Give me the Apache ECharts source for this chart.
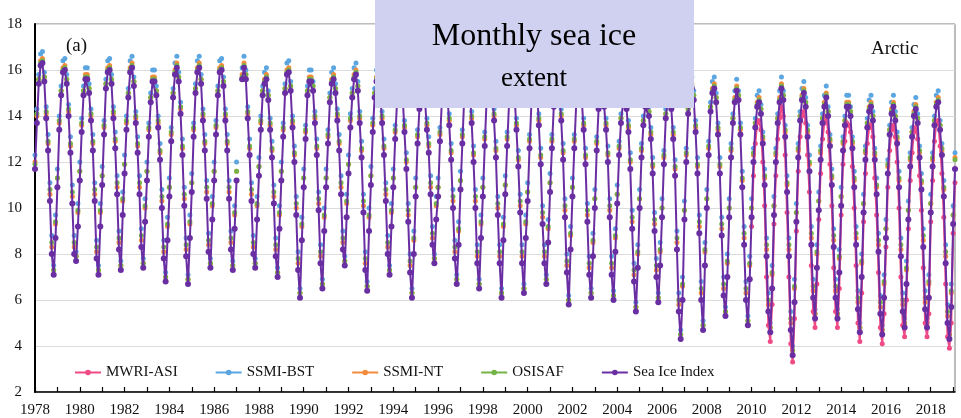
<!DOCTYPE html>
<html>
<head>
<meta charset="utf-8">
<script src="https://cdn.jsdelivr.net/npm/echarts@6/dist/echarts.min.js"></script>
<style>
html,body{margin:0;padding:0;background:#fff;}
#c{width:961px;height:418px;}
</style>
</head>
<body>
<div id="c"></div>
<script>
// Monthly values Nov 1978 .. Dec 2019 (million km2)
const seriesNames = ['MWRI-ASI', 'SSMI-BST', 'SSMI-NT', 'OSISAF', 'Sea Ice Index'];
const startYear = 1978, startMonth = 11, endYear = 2019, endMonth = 12;
const yearLabels = ['1978','1980','1982','1984','1986','1988','1990','1992','1994','1996','1998','2000','2002','2004','2006','2008','2010','2012','2014','2016','2018'];

const seaIceIndex = [
11.7,13.7,
15.4,16.2,16.3,15.5,13.9,12.5,10.3,8.0,7.1,8.7,10.9,13.4,
14.9,15.9,16.0,15.4,14.0,12.4,10.2,8.0,7.7,9.2,11.2,13.3,
14.9,15.6,15.6,15.0,13.8,12.5,10.3,7.8,7.1,9.2,11.0,13.2,
15.2,15.9,16.0,15.4,13.9,12.6,10.6,8.2,7.3,9.7,11.5,13.4,
14.8,15.9,16.1,15.3,13.7,12.4,10.6,8.3,7.4,9.4,11.2,13.1,
14.6,15.5,15.5,14.9,13.5,12.1,10.0,7.8,6.8,8.6,10.5,12.9,
14.8,15.8,16.1,15.5,14.1,12.3,10.1,7.9,6.7,8.7,10.7,13.1,
15.0,15.9,16.1,15.4,13.8,12.5,10.4,8.1,7.4,9.5,11.2,13.2,
14.9,15.9,16.0,15.3,13.8,12.5,10.4,8.2,7.3,9.1,11.2,null,
null,15.6,16.1,15.6,13.9,12.3,10.3,8.0,7.4,9.5,11.4,13.4,
14.9,15.4,15.6,14.7,13.4,12.2,10.2,7.9,7.0,9.1,11.2,13.1,
15.0,15.8,15.9,15.1,13.5,12.0,9.7,7.3,6.1,8.6,10.9,13.0,
14.9,15.5,15.5,15.1,13.7,12.3,9.9,7.6,6.5,9.0,10.9,12.8,
14.6,15.4,15.6,15.0,13.8,12.5,10.6,8.2,7.5,9.6,11.5,13.5,
14.8,15.6,15.8,15.1,13.7,12.2,9.8,7.3,6.4,9.0,11.0,13.3,
14.8,15.5,15.6,15.0,13.7,12.3,10.3,8.0,7.1,9.2,10.9,13.0,
14.6,15.2,15.4,14.9,13.3,11.7,9.4,7.2,6.1,8.0,10.5,12.8,
14.3,15.0,15.2,14.7,13.4,12.4,10.6,8.4,7.6,9.5,10.5,12.9,
14.6,15.4,15.5,14.9,13.6,12.1,10.0,7.8,6.7,8.4,10.8,12.8,
14.8,15.6,15.6,15.1,13.7,12.0,10.0,7.6,6.5,8.7,10.5,12.7,
14.7,15.4,15.4,15.2,13.8,12.2,9.7,7.6,6.1,8.6,10.6,12.7,
14.5,15.2,15.2,14.9,13.4,11.8,9.8,7.6,6.3,8.7,10.3,12.6,
14.5,15.5,15.6,15.2,13.6,11.9,9.3,7.6,6.7,8.5,10.7,12.6,
14.4,15.3,15.5,15.0,13.8,12.1,9.6,7.2,5.8,8.2,10.5,12.6,
14.5,15.3,15.5,14.7,13.4,11.9,9.4,7.1,6.1,7.9,10.0,12.5,
14.3,14.9,15.1,14.4,13.4,12.0,9.6,7.1,6.0,8.1,10.2,12.3,
13.7,14.5,14.7,14.3,13.3,11.7,9.1,6.8,5.5,7.4,10.0,12.2,
13.6,14.4,14.4,14.0,13.0,11.5,9.0,7.0,5.9,7.5,9.6,11.9,
13.9,14.7,14.7,14.3,13.0,11.4,8.2,5.5,4.3,6.0,9.5,12.0,
14.1,15.0,15.2,14.7,13.3,11.5,8.9,6.0,4.7,7.5,10.0,12.3,
14.2,15.0,15.2,14.6,13.2,11.5,8.8,6.2,5.3,7.0,9.6,12.2,
13.7,14.6,15.1,14.7,13.2,10.9,8.4,6.0,4.9,6.9,9.6,12.0,
13.5,14.4,14.6,14.1,12.8,11.0,7.9,5.5,4.6,6.5,9.7,12.0,
13.7,14.6,15.2,14.7,13.1,10.7,7.9,4.7,3.6,5.9,9.4,12.2,
13.8,14.7,15.0,14.4,13.1,11.6,8.4,6.1,5.2,7.4,9.9,12.1,
13.7,14.4,14.8,14.0,12.7,11.0,8.3,6.1,5.2,7.2,10.1,12.5,
13.6,14.4,14.4,14.0,12.6,10.9,8.4,5.6,4.6,7.0,9.8,12.1,
13.5,14.2,14.4,13.8,12.1,10.6,8.1,5.4,4.5,6.1,8.7,11.5,
13.2,14.1,14.4,13.8,12.8,10.9,7.9,5.5,4.8,6.7,9.5,11.8,
13.1,14.0,14.3,13.7,12.2,10.8,8.3,5.6,4.8,6.1,9.8,11.8,
13.6,14.4,14.6,13.4,12.3,10.5,7.6,5.0,4.3,5.7,9.3,11.7
];

const ssmiBst = [
12.3,14.3,
15.8,16.7,16.8,15.9,14.4,13.2,11.1,8.8,7.5,9.7,11.7,14.0,
15.3,16.4,16.5,15.8,14.5,13.1,11.0,8.8,8.1,10.2,12.0,13.9,
15.3,16.1,16.1,15.4,14.3,13.2,11.1,8.6,7.5,10.2,11.8,13.8,
15.6,16.4,16.5,15.8,14.4,13.3,11.4,9.0,7.7,10.7,12.3,14.0,
15.2,16.4,16.6,15.7,14.2,13.1,11.4,9.1,7.8,10.4,12.0,13.7,
15.0,16.0,16.0,15.3,14.0,12.8,10.8,8.6,7.2,9.6,11.3,13.5,
15.2,16.3,16.6,15.9,14.6,13.0,10.9,8.7,7.1,9.7,11.5,13.7,
15.4,16.4,16.6,15.8,14.3,13.2,11.2,8.9,7.8,10.5,12.0,13.8,
15.3,16.4,16.5,15.7,14.3,13.2,11.2,9.0,7.7,10.1,12.0,null,
null,16.1,16.6,16.0,14.4,13.0,11.1,8.8,7.8,10.5,12.2,14.0,
15.3,15.9,16.1,15.1,13.9,12.9,11.0,8.7,7.4,10.1,12.0,13.7,
15.4,16.3,16.4,15.5,14.0,12.7,10.5,8.1,6.5,9.6,11.7,13.6,
15.3,16.0,16.0,15.5,14.2,13.0,10.7,8.4,6.9,10.0,11.7,13.4,
15.0,15.9,16.1,15.4,14.3,13.2,11.4,9.0,7.9,10.6,12.3,14.1,
15.2,16.1,16.3,15.5,14.2,12.9,10.6,8.1,6.8,10.0,11.8,13.9,
15.2,16.0,16.1,15.4,14.2,13.0,11.1,8.8,7.5,10.2,11.7,13.6,
15.0,15.7,15.9,15.3,13.8,12.4,10.2,8.0,6.5,9.0,11.3,13.4,
14.7,15.5,15.7,15.1,13.9,13.1,11.4,9.2,8.0,10.5,11.3,13.5,
15.0,15.9,16.0,15.3,14.1,12.8,10.8,8.6,7.1,9.4,11.6,13.4,
15.2,16.1,16.1,15.5,14.2,12.7,10.8,8.4,6.9,9.7,11.3,13.3,
15.1,15.9,15.9,15.6,14.3,12.9,10.5,8.4,6.5,9.6,11.4,13.3,
14.9,15.7,15.7,15.3,13.9,12.5,10.6,8.4,6.7,9.7,11.1,13.2,
14.9,16.0,16.1,15.6,14.1,12.6,10.1,8.4,7.1,9.5,11.5,13.2,
14.8,15.8,16.0,15.4,14.3,12.8,10.4,8.0,6.2,9.2,11.3,13.2,
14.9,15.8,16.0,15.1,13.9,12.6,10.2,7.9,6.5,8.9,10.8,13.1,
14.7,15.4,15.6,14.8,13.9,12.7,10.4,7.9,6.4,9.1,11.0,12.9,
14.1,15.0,15.2,14.7,13.8,12.4,9.9,7.6,5.9,8.4,10.8,12.8,
14.0,14.9,14.9,14.4,13.5,12.2,9.8,7.8,6.3,8.5,10.4,12.5,
14.3,15.2,15.2,14.7,13.5,12.1,9.0,6.3,4.7,7.0,10.3,12.6,
14.5,15.5,15.7,15.1,13.8,12.2,9.7,6.8,5.1,8.5,10.8,12.9,
14.6,15.5,15.7,15.0,13.7,12.2,9.6,7.0,5.7,8.0,10.4,12.8,
14.1,15.1,15.6,15.1,13.7,11.6,9.2,6.8,5.3,7.9,10.4,12.6,
13.9,14.9,15.1,14.5,13.3,11.7,8.7,6.3,5.0,7.5,10.5,12.6,
14.1,15.1,15.7,15.1,13.6,11.4,8.7,5.5,4.0,6.9,10.2,12.8,
14.2,15.2,15.5,14.8,13.6,12.3,9.2,6.9,5.6,8.4,10.7,12.7,
14.1,14.9,15.3,14.4,13.2,11.7,9.1,6.9,5.6,8.2,10.9,13.1,
14.0,14.9,14.9,14.4,13.1,11.6,9.2,6.4,5.0,8.0,10.6,12.7,
13.9,14.7,14.9,14.2,12.6,11.3,8.9,6.2,4.9,7.1,9.5,12.1,
13.6,14.6,14.9,14.2,13.3,11.6,8.7,6.3,5.2,7.7,10.3,12.4,
13.5,14.5,14.8,14.1,12.7,11.5,9.1,6.4,5.2,7.1,10.6,12.4,
14.0,14.9,15.1,13.8,12.8,11.2,8.4,5.8,4.7,6.7,10.1,12.4
];

const ssmiNt = [
12.0,14.0,
15.6,16.4,16.5,15.7,14.1,12.8,10.6,8.3,7.3,9.3,11.3,13.7,
15.1,16.1,16.2,15.6,14.2,12.7,10.5,8.3,7.9,9.8,11.6,13.6,
15.1,15.8,15.8,15.2,14.0,12.8,10.6,8.1,7.3,9.8,11.4,13.5,
15.4,16.1,16.2,15.6,14.1,12.9,10.9,8.5,7.5,10.3,11.9,13.7,
15.0,16.1,16.3,15.5,13.9,12.7,10.9,8.6,7.6,10.0,11.6,13.4,
14.8,15.7,15.7,15.1,13.7,12.4,10.3,8.1,7.0,9.2,10.9,13.2,
15.0,16.0,16.3,15.7,14.3,12.6,10.4,8.2,6.9,9.3,11.1,13.4,
15.2,16.1,16.3,15.6,14.0,12.8,10.7,8.4,7.6,10.1,11.6,13.5,
15.1,16.1,16.2,15.5,14.0,12.8,10.7,8.5,7.5,9.7,11.6,null,
null,15.8,16.3,15.8,14.1,12.6,10.6,8.3,7.6,10.1,11.8,13.7,
15.1,15.6,15.8,14.9,13.6,12.5,10.5,8.2,7.2,9.7,11.6,13.4,
15.2,16.0,16.1,15.3,13.7,12.3,10.0,7.6,6.3,9.2,11.3,13.3,
15.1,15.7,15.7,15.3,13.9,12.6,10.2,7.9,6.7,9.6,11.3,13.1,
14.8,15.6,15.8,15.2,14.0,12.8,10.9,8.5,7.7,10.2,11.9,13.8,
15.0,15.8,16.0,15.3,13.9,12.5,10.1,7.6,6.6,9.6,11.4,13.6,
15.0,15.7,15.8,15.2,13.9,12.6,10.6,8.3,7.3,9.8,11.3,13.3,
14.8,15.4,15.6,15.1,13.5,12.0,9.7,7.5,6.3,8.6,10.9,13.1,
14.5,15.2,15.4,14.9,13.6,12.7,10.9,8.7,7.8,10.1,10.9,13.2,
14.8,15.6,15.7,15.1,13.8,12.4,10.3,8.1,6.9,9.0,11.2,13.1,
15.0,15.8,15.8,15.3,13.9,12.3,10.3,7.9,6.7,9.3,10.9,13.0,
14.9,15.6,15.6,15.4,14.0,12.5,10.0,7.9,6.3,9.2,11.0,13.0,
14.7,15.4,15.4,15.1,13.6,12.1,10.1,7.9,6.5,9.3,10.7,12.9,
14.7,15.7,15.8,15.4,13.8,12.2,9.6,7.9,6.9,9.1,11.1,12.9,
14.6,15.5,15.7,15.2,14.0,12.4,9.9,7.5,6.0,8.8,10.9,12.9,
14.7,15.5,15.7,14.9,13.6,12.2,9.7,7.4,6.3,8.5,10.4,12.8,
14.5,15.1,15.3,14.6,13.6,12.3,9.9,7.4,6.2,8.7,10.6,12.6,
13.9,14.7,14.9,14.5,13.5,12.0,9.4,7.1,5.7,8.0,10.4,12.5,
13.8,14.6,14.6,14.2,13.2,11.8,9.3,7.3,6.1,8.1,10.0,12.2,
14.1,14.9,14.9,14.5,13.2,11.7,8.5,5.8,4.5,6.6,9.9,12.3,
14.3,15.2,15.4,14.9,13.5,11.8,9.2,6.3,4.9,8.1,10.4,12.6,
14.4,15.2,15.4,14.8,13.4,11.8,9.1,6.5,5.5,7.6,10.0,12.5,
13.9,14.8,15.3,14.9,13.4,11.2,8.7,6.3,5.1,7.5,10.0,12.3,
13.7,14.6,14.8,14.3,13.0,11.3,8.2,5.8,4.8,7.1,10.1,12.3,
13.9,14.8,15.4,14.9,13.3,11.0,8.2,5.0,3.8,6.5,9.8,12.5,
14.0,14.9,15.2,14.6,13.3,11.9,8.7,6.4,5.4,8.0,10.3,12.4,
13.9,14.6,15.0,14.2,12.9,11.3,8.6,6.4,5.4,7.8,10.5,12.8,
13.8,14.6,14.6,14.2,12.8,11.2,8.7,5.9,4.8,7.6,10.2,12.4,
13.7,14.4,14.6,14.0,12.3,10.9,8.4,5.7,4.7,6.7,9.1,11.8,
13.4,14.3,14.6,14.0,13.0,11.2,8.2,5.8,5.0,7.3,9.9,12.1,
13.3,14.2,14.5,13.9,12.4,11.1,8.6,5.9,5.0,6.7,10.2,12.1,
13.8,14.6,14.8,13.6,12.5,10.8,7.9,5.3,4.5,6.3,9.7,12.2
];

const osisaf = [
11.9,14.1,
15.6,16.3,16.4,15.7,14.2,12.9,10.8,8.5,7.3,9.4,11.3,13.8,
15.1,16.0,16.1,15.6,14.3,12.8,10.7,8.5,7.9,9.9,11.6,13.7,
15.1,15.7,15.7,15.2,14.1,12.9,10.8,8.3,7.3,9.9,11.4,13.6,
15.4,16.0,16.1,15.6,14.2,13.0,11.1,8.7,7.5,10.4,11.9,13.8,
15.0,16.0,16.2,15.5,14.0,12.8,11.1,8.8,7.6,10.1,11.6,13.5,
14.8,15.6,15.6,15.1,13.8,12.5,10.5,8.3,7.0,9.3,10.9,13.3,
15.0,15.9,16.2,15.7,14.4,12.7,10.6,8.4,6.9,9.4,11.1,13.5,
15.2,16.0,16.2,15.6,14.1,12.9,10.9,8.6,7.6,10.2,11.6,13.6,
15.1,16.0,16.1,15.5,14.1,12.9,10.9,8.7,7.5,9.8,11.6,null,
null,15.7,16.2,15.8,14.2,12.7,10.8,8.5,7.6,10.2,11.8,13.8,
15.1,15.5,15.7,14.9,13.7,12.6,10.7,8.4,7.2,9.8,11.6,13.5,
15.2,15.9,16.0,15.3,13.8,12.4,10.2,7.8,6.3,9.3,11.3,13.4,
15.1,15.6,15.6,15.3,14.0,12.7,10.4,8.1,6.7,9.7,11.3,13.2,
14.8,15.5,15.7,15.2,14.1,12.9,11.1,8.7,7.7,10.3,11.9,13.9,
15.0,15.7,15.9,15.3,14.0,12.6,10.3,7.8,6.6,9.7,11.4,13.7,
15.0,15.6,15.7,15.2,14.0,12.7,10.8,8.5,7.3,9.9,11.3,13.4,
14.8,15.3,15.5,15.1,13.6,12.1,9.9,7.7,6.3,8.7,10.9,13.2,
14.5,15.1,15.3,14.9,13.7,12.8,11.1,8.9,7.8,10.2,10.9,13.3,
14.8,15.5,15.6,15.1,13.9,12.5,10.5,8.3,6.9,9.1,11.2,13.2,
15.0,15.7,15.7,15.3,14.0,12.4,10.5,8.1,6.7,9.4,10.9,13.1,
14.9,15.5,15.5,15.4,14.1,12.6,10.2,8.1,6.3,9.3,11.0,13.1,
14.7,15.3,15.3,15.1,13.7,12.2,10.3,8.1,6.5,9.4,10.7,13.0,
14.7,15.6,15.7,15.4,13.9,12.3,9.8,8.1,6.9,9.2,11.1,13.0,
14.6,15.4,15.6,15.2,14.1,12.5,10.1,7.7,6.0,8.9,10.9,13.0,
14.7,15.4,15.6,14.9,13.7,12.3,9.9,7.6,6.3,8.6,10.4,12.9,
14.5,15.0,15.2,14.6,13.7,12.4,10.1,7.6,6.2,8.8,10.6,12.7,
13.9,14.6,14.8,14.5,13.6,12.1,9.6,7.3,5.7,8.1,10.4,12.6,
13.8,14.5,14.5,14.2,13.3,11.9,9.5,7.5,6.1,8.2,10.0,12.3,
14.1,14.8,14.8,14.5,13.3,11.8,8.7,6.0,4.5,6.7,9.9,12.4,
14.3,15.1,15.3,14.9,13.6,11.9,9.4,6.5,4.9,8.2,10.4,12.7,
14.4,15.1,15.3,14.8,13.5,11.9,9.3,6.7,5.5,7.7,10.0,12.6,
13.9,14.7,15.2,14.9,13.5,11.3,8.9,6.5,5.1,7.6,10.0,12.4,
13.7,14.5,14.7,14.3,13.1,11.4,8.4,6.0,4.8,7.2,10.1,12.4,
13.9,14.7,15.3,14.9,13.4,11.1,8.4,5.2,3.8,6.6,9.8,12.6,
14.0,14.8,15.1,14.6,13.4,12.0,8.9,6.6,5.4,8.1,10.3,12.5,
13.9,14.5,14.9,14.2,13.0,11.4,8.8,6.6,5.4,7.9,10.5,12.9,
13.8,14.5,14.5,14.2,12.9,11.3,8.9,6.1,4.8,7.7,10.2,12.5,
13.7,14.3,14.5,14.0,12.4,11.0,8.6,5.9,4.7,6.8,9.1,11.9,
13.4,14.2,14.5,14.0,13.1,11.3,8.4,6.0,5.0,7.4,9.9,12.2,
13.3,14.1,14.4,13.9,12.5,11.2,8.8,6.1,5.0,6.8,10.2,12.2,
13.8,14.5,14.7,13.6,12.6,10.9,8.1,5.5,4.5,6.4,9.7,12.1
];

// MWRI-ASI available from Nov 2010
const mwriStart = '2010-11';
const mwriAsi = [
9.2,11.4,
12.8,13.7,13.8,13.4,12.0,10.1,7.0,4.9,4.2,5.8,9.3,11.4,
13.0,13.9,14.4,14.0,12.3,9.8,7.0,4.1,3.3,5.2,9.0,11.6,
13.1,14.0,14.2,13.7,12.3,10.7,7.5,5.5,4.8,6.7,9.5,11.5,
13.0,13.7,14.0,13.3,11.9,10.1,7.4,5.5,4.8,6.5,9.7,11.9,
12.9,13.7,13.6,13.3,11.8,10.0,7.5,5.0,4.2,6.3,9.4,11.5,
12.8,13.5,13.6,13.1,11.3,9.7,7.2,4.8,4.1,5.4,8.3,10.9,
12.5,13.4,13.6,13.1,12.0,10.0,7.0,4.9,4.4,6.0,9.1,11.2,
12.4,13.3,13.5,13.0,11.4,9.9,7.4,5.0,4.4,5.4,9.4,11.2,
12.9,13.7,13.8,12.7,11.5,9.6,6.7,4.4,3.9,5.0,8.9,11.1
];

// ---- build category axis (months) ----
const months = [];
for (let y = startYear, m = startMonth; y < endYear || (y === endYear && m <= endMonth); ) {
  months.push(y + '-' + (m < 10 ? '0' + m : m));
  m++; if (m > 12) { m = 1; y++; }
}
const mwriOffset = months.indexOf(mwriStart);
const mwriFull = months.map((_, i) => i >= mwriOffset ? mwriAsi[i - mwriOffset] : null);

const colors = {
  'MWRI-ASI': '#f04a86',
  'SSMI-BST': '#5ba6e0',
  'SSMI-NT': '#f28c3c',
  'OSISAF': '#74b346',
  'Sea Ice Index': '#6a2ea3'
};
const dataMap = {
  'MWRI-ASI': mwriFull,
  'SSMI-BST': ssmiBst,
  'SSMI-NT': ssmiNt,
  'OSISAF': osisaf,
  'Sea Ice Index': seaIceIndex
};
const lined = {'MWRI-ASI': true, 'Sea Ice Index': true};
const zOrder = {'SSMI-BST': 2, 'SSMI-NT': 3, 'OSISAF': 4, 'MWRI-ASI': 5, 'Sea Ice Index': 6};

const serif = '"Liberation Serif", "Times New Roman", serif';

const series = seriesNames.map(n => ({
  name: n,
  type: 'line',
  data: dataMap[n],
  z: zOrder[n],
  symbol: 'circle',
  symbolSize: n === 'Sea Ice Index' ? 6 : 5,
  showSymbol: true,
  showAllSymbol: true,
  connectNulls: false,
  itemStyle: { color: colors[n] },
  lineStyle: lined[n] ? { color: colors[n], width: 2 } : { color: colors[n], width: 1, opacity: 0 },
  emphasis: { disabled: true },
  animation: false
}));

const chart = echarts.init(document.getElementById('c'), null, { renderer: 'canvas' });
chart.setOption({
  animation: false,
  backgroundColor: '#ffffff',
  grid: {
    left: 35, right: 6, top: 24, bottom: 26,
    show: true, borderColor: '#7a7a7a', borderWidth: 1, backgroundColor: 'transparent'
  },
  legend: {
    left: 69, top: 360,
    itemWidth: 26, itemHeight: 7, itemGap: 37,
    textStyle: { fontFamily: serif, fontSize: 15, color: '#111' },
    data: seriesNames.map(n => ({ name: n, lineStyle: { opacity: 1, width: 2, color: colors[n] } })),
    selectedMode: false
  },
  xAxis: {
    type: 'category',
    data: months,
    boundaryGap: false,
    axisLine: { lineStyle: { color: '#000', width: 1.5 } },
    axisTick: { show: true, interval: 11, inside: true, length: 5, lineStyle: { color: '#000', width: 1.2 } },
    axisLabel: {
      interval: 23,
      margin: 11,
      fontFamily: serif, fontSize: 15, color: '#111',
      formatter: v => { const y = v.slice(0, 4); return yearLabels.indexOf(y) >= 0 ? y : ''; }
    },
    splitLine: { show: false }
  },
  yAxis: {
    type: 'value',
    min: 2, max: 18, interval: 2,
    axisLine: { show: true, lineStyle: { color: '#000', width: 2 } },
    axisTick: { show: false },
    axisLabel: { margin: 13, fontFamily: serif, fontSize: 15, color: '#111' },
    splitLine: { lineStyle: { color: '#dcdcdc', width: 1 } }
  },
  graphic: [
    { type: 'text', left: 66, top: 37, z: 50, style: { text: '(a)', font: '19px ' + serif, fill: '#111' } },
    { type: 'text', left: 871, top: 40, z: 50, style: { text: 'Arctic', font: '19px ' + serif, fill: '#111' } },
    { type: 'rect', shape: { x: 375, y: 0, width: 319, height: 108 }, z: 100, style: { fill: '#d0d0f0' } },
    { type: 'text', z: 101, style: { x: 534, y: 37, text: 'Monthly sea ice', font: '32px ' + serif, fill: '#000', textAlign: 'center', textVerticalAlign: 'middle' } },
    { type: 'text', z: 101, style: { x: 534, y: 79, text: 'extent', font: '27px ' + serif, fill: '#000', textAlign: 'center', textVerticalAlign: 'middle' } }
  ],
  series: series
});
</script>
</body>
</html>
